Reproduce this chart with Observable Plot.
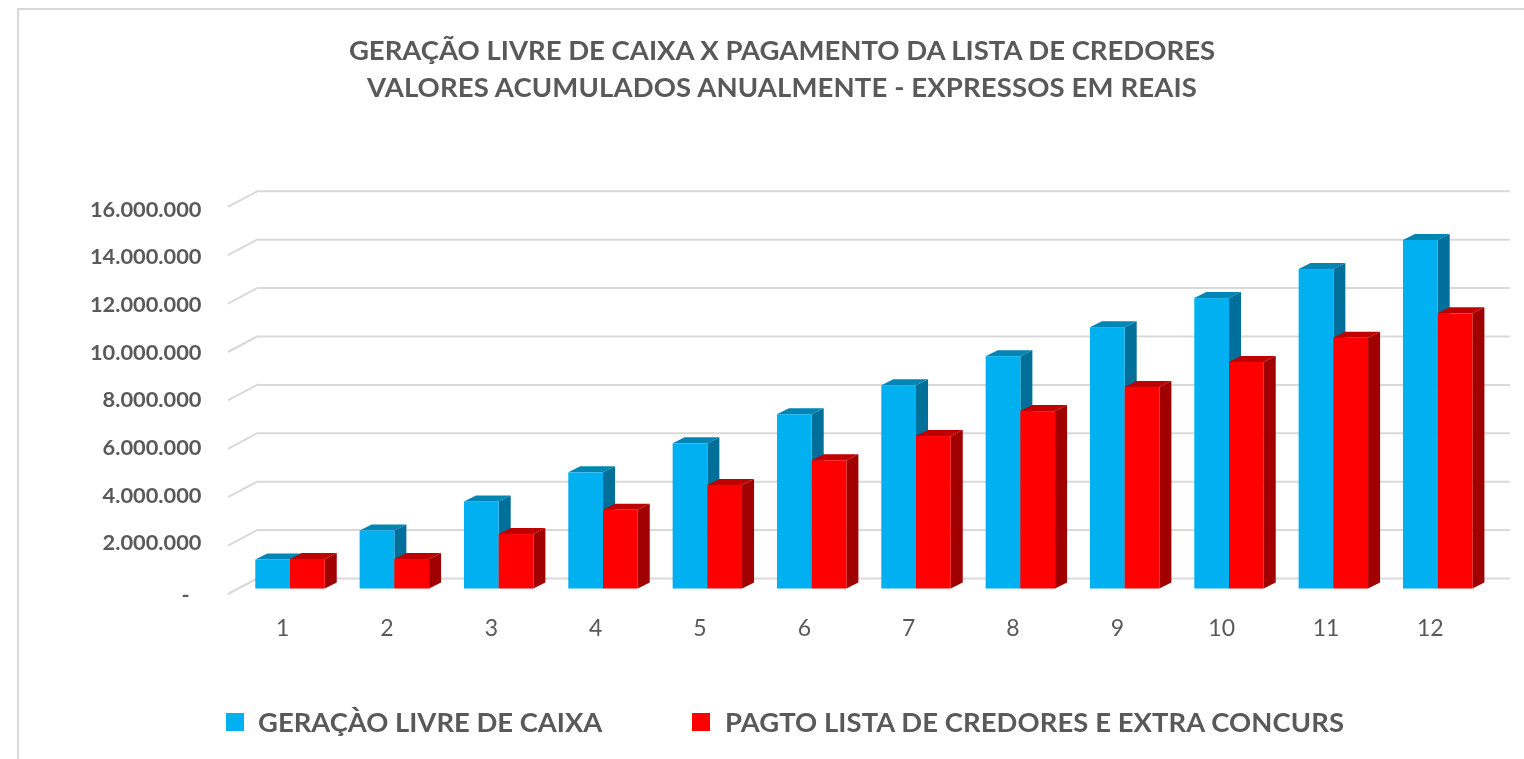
<!DOCTYPE html>
<html lang="pt">
<head>
<meta charset="utf-8">
<script src="https://cdn.jsdelivr.net/npm/d3@7"></script>
<script src="https://cdn.jsdelivr.net/npm/@observablehq/plot@0.6"></script>
<style>
html,body{margin:0;padding:0;background:#fff;}
#page{position:relative;width:1524px;height:759px;overflow:hidden;background:#fff;font-family:Lato,sans-serif;color:#595959;filter:blur(0.5px);}
#frame{position:absolute;left:17px;top:8px;width:1600px;height:800px;border:2px solid #d9d9d9;box-sizing:border-box;}
#title{position:absolute;left:0;top:31px;width:1564px;text-align:center;font-weight:700;font-size:27.5px;line-height:37px;}
#title div+div{letter-spacing:0.13px;}
#chart{position:absolute;left:0;top:150px;}
#legend .sw{position:absolute;top:713px;width:18px;height:18px;}
#legend .lb{position:absolute;top:706px;font-weight:700;font-size:27.4px;line-height:32px;white-space:nowrap;}
</style>
</head>
<body>
<div id="page">
  <div id="frame"></div>
  <div id="title"><div>GERAÇÃO LIVRE DE CAIXA X PAGAMENTO DA LISTA DE CREDORES</div><div>VALORES ACUMULADOS ANUALMENTE - EXPRESSOS EM REAIS</div></div>
  <div id="chart"></div>
  <div id="legend"></div>
</div>
<script>
const years = [1,2,3,4,5,6,7,8,9,10,11,12];
const geracao = [1.2e6,2.4e6,3.6e6,4.8e6,6.0e6,7.2e6,8.4e6,9.6e6,10.8e6,12.0e6,13.2e6,14.4e6];
const pagto = [1.22e6,1.22e6,2.25e6,3.25e6,4.28e6,5.3e6,6.3e6,7.33e6,8.33e6,9.36e6,10.36e6,11.37e6];
const yTicks = [0,2e6,4e6,6e6,8e6,10e6,12e6,14e6,16e6];
const nameA = "GERAÇÀO LIVRE DE CAIXA";
const nameB = "PAGTO LISTA DE CREDORES E EXTRA CONCURS";
const textColor = "#595959";

const seriesA = years.map((k,i)=>({k,v:geracao[i]}));
const seriesB = years.map((k,i)=>({k,v:pagto[i]}));

const svgNS = "http://www.w3.org/2000/svg";
function pathEl(d, fill, stroke, sw){
  const p = document.createElementNS(svgNS,"path");
  p.setAttribute("d",d);
  p.setAttribute("fill",fill);
  if(stroke){p.setAttribute("stroke",stroke);p.setAttribute("stroke-width",sw);}
  return p;
}
// Oblique projection offsets of the 3D chart's depth
const wall = {dx:30, dy:-16};
const barPlane = {dx:10, dy:-5.5};
const barDepth = {dx:12, dy:-6};

function faces(sideFill, topFill){
  return function(index, scales, values, dims, ctx, next){
    const g = next(index, scales, values, dims, ctx);
    const wrap = document.createElementNS(svgNS,"g");
    const rects = Array.from(g.querySelectorAll("rect"));
    index.forEach((i,n)=>{
      const r = rects[n];
      const x0 = +r.getAttribute("x") + barPlane.dx;
      const w = +r.getAttribute("width");
      const y0 = +r.getAttribute("y") + barPlane.dy;
      const h = +r.getAttribute("height");
      const D = barDepth;
      wrap.append(pathEl(`M${x0+w},${y0}l${D.dx},${D.dy}v${h}l${-D.dx},${-D.dy}z`, sideFill));
      wrap.append(pathEl(`M${x0},${y0}l${D.dx},${D.dy}h${w}l${-D.dx},${-D.dy}z`, topFill));
    });
    wrap.append(g);
    return wrap;
  };
}

const top0 = 150;
const labelFont = {fill:textColor, fontFamily:"Lato, sans-serif"};
const plot = Plot.plot({
  width:1524, height:500,
  marginLeft:258, marginRight:14, marginTop:0, marginBottom:0,
  style:{background:"transparent", overflow:"visible"},
  x:{type:"band", domain:years, range:[228,1480], padding:0, round:false, axis:null},
  y:{domain:[0,16e6], range:[594-top0, 594-top0-387.2], axis:null},
  marks:[
    Plot.ruleY(yTicks,{
      y:d=>d, dy:wall.dy, stroke:"#d9d9d9", strokeWidth:2,
      render(index, scales, values, dims, ctx, next){
        const g = next(index, scales, values, dims, ctx);
        const wrap = document.createElementNS(svgNS,"g");
        const x0 = scales.x(years[0]);
        index.forEach(i=>{
          const y = scales.y(yTicks[i]);
          wrap.append(pathEl(`M${x0},${y}l${wall.dx},${wall.dy}`,"none","#d9d9d9",2));
        });
        wrap.append(g);
        return wrap;
      }
    }),
    Plot.barY(seriesA,{x:"k", y:"v", fill:"#00B0F0", dx:barPlane.dx, dy:barPlane.dy,
      insetLeft:17.3, insetRight:52.3, render:faces("#006f99","#0085b5")}),
    Plot.barY(seriesB,{x:"k", y:"v", fill:"#FF0000", dx:barPlane.dx, dy:barPlane.dy,
      insetLeft:52, insetRight:17.6, render:faces("#a00000","#c00000")}),
    // number labels sit on a slightly tighter spacing than the wall gridlines in the reference
    Plot.text(yTicks.filter(d=>d>0),{
      x:()=>1, y:d=>d*0.9855+0.136e6, textAnchor:"end", dx:-79.2,
      text:d=>d3.format(",")(d).replace(/,/g,"."),
      fontWeight:700, fontSize:21.8, ...labelFont
    }),
    Plot.text([0],{
      x:()=>1, y:d=>d, textAnchor:"end", dx:-91, dy:1, text:()=>"-",
      fontWeight:700, fontSize:21.8, ...labelFont
    }),
    Plot.text(years,{
      x:d=>d, y:()=>0, dx:2, dy:34, text:d=>String(d),
      fontSize:23, ...labelFont
    })
  ]
});
document.getElementById("chart").append(plot);

const legend = document.getElementById("legend");
[[nameA,"#00B0F0",226,258,0],[nameB,"#FF0000",692,725,0.1]].forEach(([t,c,sx,lx,ls])=>{
  const s=document.createElement("div");s.className="sw";s.style.left=sx+"px";s.style.background=c;legend.append(s);
  const l=document.createElement("div");l.className="lb";l.style.left=lx+"px";l.style.letterSpacing=ls+"px";l.textContent=t;legend.append(l);
});
</script>
</body>
</html>
